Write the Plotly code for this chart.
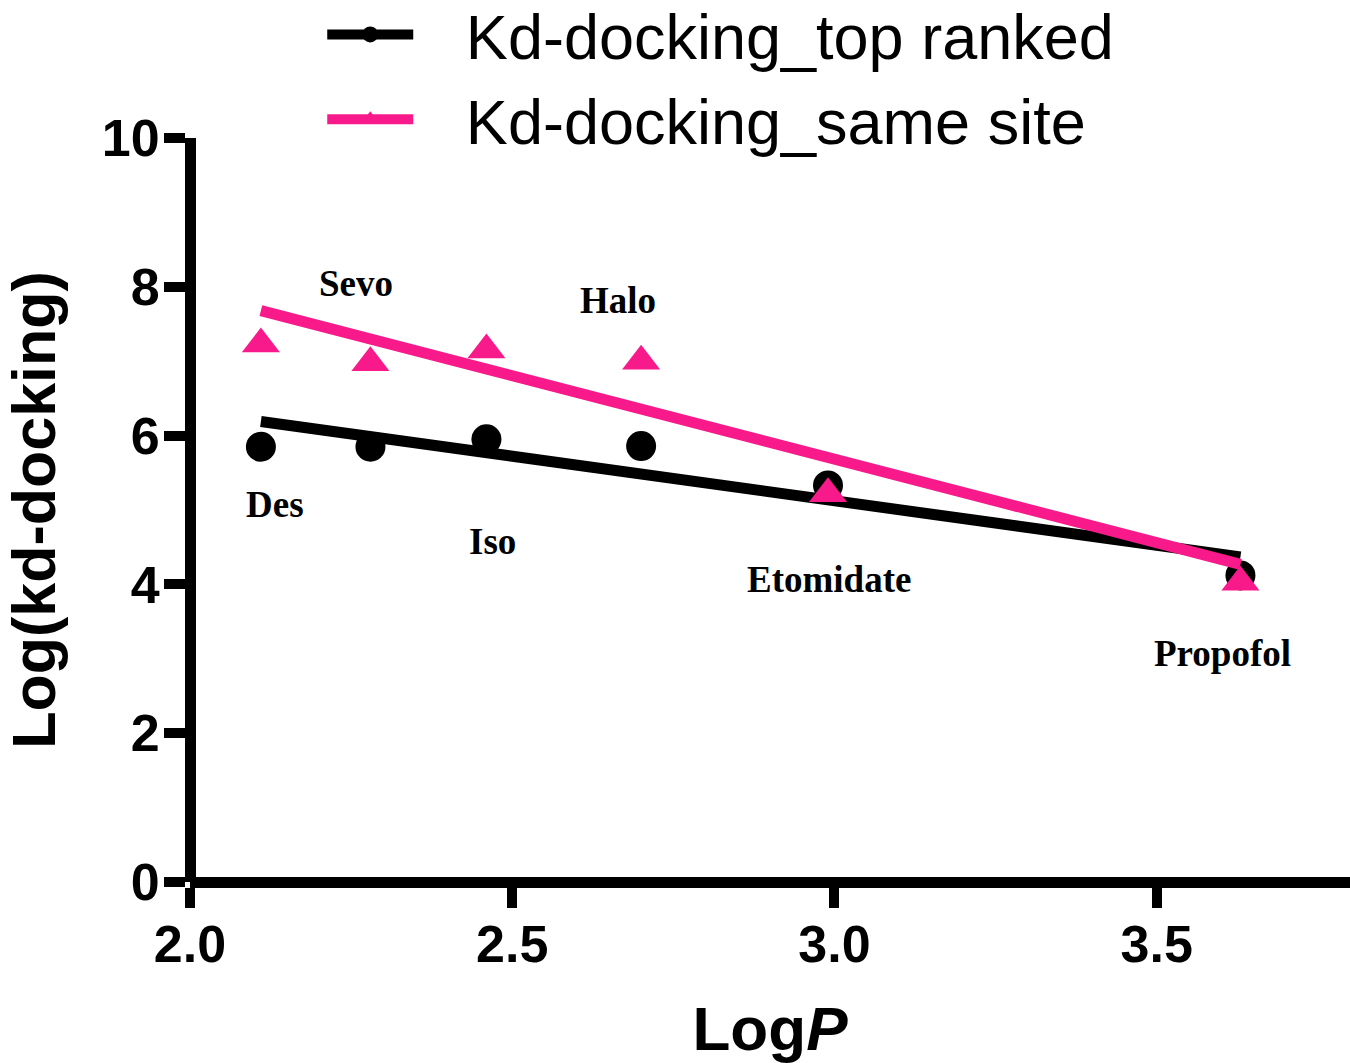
import plotly.graph_objects as go

# Anaesthetic agents and their lipophilicity (LogP)
agents = ["Des", "Sevo", "Iso", "Halo", "Etomidate", "Propofol"]
logp = [2.11, 2.28, 2.46, 2.70, 2.99, 3.63]

# Log(Kd) from docking
top_ranked = [5.85, 5.85, 5.95, 5.86, 5.33, 4.12]
same_site = [7.23, 6.98, 7.15, 7.00, 5.22, 4.03]

# Linear trend lines (start/end at the outermost LogP values)
fit_x = [2.11, 3.63]
top_ranked_fit = [6.19, 4.37]
same_site_fit = [7.68, 4.27]

# Where each agent name sits (data coordinates)
label_x = [2.132, 2.258, 2.469, 2.664, 2.992, 3.602]
label_y = [5.07, 8.04, 4.57, 7.81, 4.07, 3.07]

series_names = ["Kd-docking_top ranked", "Kd-docking_same site"]

BLACK = "#000000"
PINK = "#F81A8A"
SANS = "Liberation Sans, Arial, sans-serif"
SERIF = "Liberation Serif, Times New Roman, serif"
LINE_W = 11
# gap between legend symbol and legend text
LEGEND_PAD = "\u00a0\u00a0\u2009"

fig = go.Figure()

# legend entries (line + symbol)
for name, color, symbol in [(series_names[0], BLACK, "circle"),
                            (series_names[1], PINK, "triangle-up")]:
    fig.add_trace(go.Scatter(
        x=[None], y=[None], mode="lines+markers", name=LEGEND_PAD + name,
        line=dict(color=color, width=LINE_W),
        marker=dict(color=color, symbol=symbol, size=16),
        hoverinfo="skip"))

# top ranked series
fig.add_trace(go.Scatter(
    x=logp, y=top_ranked, mode="markers", showlegend=False,
    marker=dict(color=BLACK, symbol="circle", size=30, line=dict(width=0))))
fig.add_trace(go.Scatter(
    x=fit_x, y=top_ranked_fit, mode="lines", showlegend=False,
    line=dict(color=BLACK, width=LINE_W)))

# same site series
fig.add_trace(go.Scatter(
    x=logp, y=same_site, mode="markers", showlegend=False,
    marker=dict(color=PINK, symbol="triangle-up", size=33, line=dict(width=0))))
fig.add_trace(go.Scatter(
    x=fit_x, y=same_site_fit, mode="lines", showlegend=False,
    line=dict(color=PINK, width=LINE_W)))

for name, lx, ly in zip(agents, label_x, label_y):
    fig.add_annotation(
        x=lx, y=ly, xref="x", yref="y", text=f"<b>{name}</b>",
        showarrow=False, font=dict(family=SERIF, size=37, color=BLACK),
        xanchor="center", yanchor="middle")

fig.update_layout(
    width=1350, height=1063,
    margin=dict(l=190, r=0, t=138, b=181, autoexpand=False),
    paper_bgcolor="white", plot_bgcolor="white",
    showlegend=True,
    legend=dict(
        x=0.114, y=1.203, xanchor="left", yanchor="top",
        font=dict(family=SANS, size=63, color=BLACK),
        bgcolor="rgba(0,0,0,0)", itemwidth=86,
        tracegroupgap=0),
    xaxis=dict(
        range=[2.0, 3.8], anchor="free", position=0,
        tickvals=[2.0, 2.5, 3.0, 3.5], ticktext=["2.0", "2.5", "3.0", "3.5"],
        showgrid=False, zeroline=False,
        showline=True, linecolor=BLACK, linewidth=LINE_W,
        ticks="outside", ticklen=20, tickwidth=10, tickcolor=BLACK,
        ticklabelstandoff=-8,
        tickfont=dict(family=SANS, size=52, color=BLACK, weight="bold"),
        title=dict(text="Log<i>P</i>", standoff=38,
                   font=dict(family=SANS, size=62, color=BLACK, weight="bold"))),
    yaxis=dict(
        range=[0, 10], anchor="free", position=0,
        tickvals=[0, 2, 4, 6, 8, 10],
        showgrid=False, zeroline=False,
        showline=True, linecolor=BLACK, linewidth=LINE_W,
        ticks="outside", ticklen=21, tickwidth=10, tickcolor=BLACK,
        ticklabelstandoff=-6,
        tickfont=dict(family=SANS, size=52, color=BLACK, weight="bold"),
        title=dict(text="Log(kd-docking)", standoff=34,
                   font=dict(family=SANS, size=61, color=BLACK, weight="bold"))),
)

fig.write_html("out.html")
